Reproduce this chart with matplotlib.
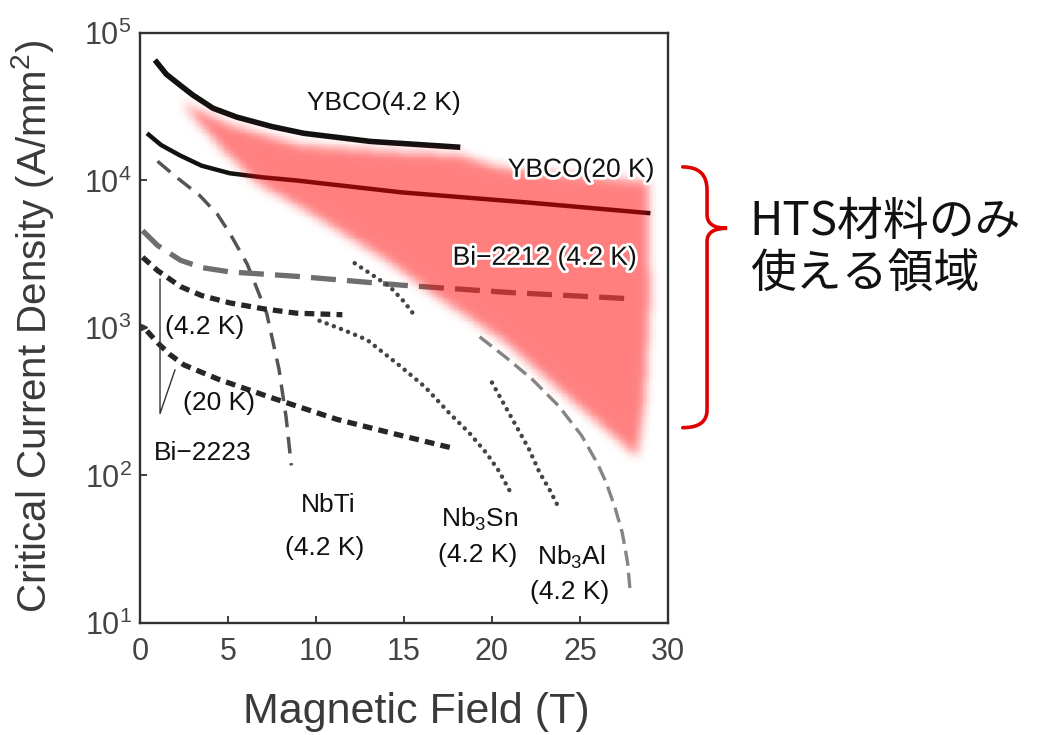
import numpy as np
import matplotlib
matplotlib.use("Agg")
import matplotlib.pyplot as plt
import matplotlib.patheffects as pe
from matplotlib.path import Path
from matplotlib.patches import PathPatch
from matplotlib.ticker import FixedLocator, NullLocator

plt.rcParams['font.family'] = ['Liberation Sans', 'DejaVu Sans']
plt.rcParams['mathtext.fontset'] = 'custom'
plt.rcParams['mathtext.rm'] = 'Liberation Sans'
plt.rcParams['mathtext.it'] = 'Liberation Sans:italic'
plt.rcParams['mathtext.default'] = 'regular'
plt.rcParams['lines.scale_dashes'] = False

# critical current density (A/mm^2) vs magnetic field (T)
ybco42_field = [0.85, 1.5, 2.27, 3.0, 4.15, 5.5, 7.5, 9.3, 13.1, 18.2]
ybco42_jc = [65600, 52500, 44400, 38000, 30900, 26900, 23200, 20900, 18400, 16800]

ybco20_field = [0.4, 1.2, 2.27, 3.5, 5.1, 7.0, 8.9, 14.9, 22.0, 29.0]
ybco20_jc = [20900, 17400, 14800, 12600, 11200, 10500, 10000, 8300, 7100, 6000]

nbti_field = [1.0, 2.0, 3.4, 4.4, 5.1, 6.1, 7.2, 7.9, 8.3, 8.6]
nbti_jc = [13500, 10700, 7900, 5900, 4400, 2700, 1260, 525, 250, 117]

bi2212_field = [0.15, 1.0, 2.3, 3.5, 5.1, 8.9, 14.9, 21.0, 27.8]
bi2212_jc = [4570, 3630, 2880, 2570, 2400, 2240, 1950, 1740, 1580]

bi2223_42_field = [0.15, 1.0, 2.3, 3.5, 5.1, 7.0, 8.9, 11.5]
bi2223_42_jc = [3020, 2450, 1910, 1660, 1480, 1350, 1260, 1230]

bi2223_20_field = [0.4, 1.0, 1.7, 2.5, 4.5, 7.4, 11.2, 14.5, 17.6]
bi2223_20_jc = [955, 794, 661, 562, 447, 339, 240, 191, 155]

nb3sn_field = [10.2, 11.5, 12.9, 14.8, 16.2, 17.6, 18.7, 19.7, 20.4, 21.0]
nb3sn_jc = [1120, 977, 832, 550, 398, 263, 195, 141, 107, 79]

nb3sn_hi_field = [12.2, 13.2, 14.2, 15.0, 15.7]
nb3sn_hi_jc = [2750, 2290, 1905, 1510, 1175]

nb3sn_lo_field = [20.0, 20.7, 21.4, 22.1, 22.7, 23.3, 23.75]
nb3sn_lo_jc = [427, 302, 214, 151, 105, 79, 62]

nb3al_field = [19.3, 20.8, 22.3, 23.8, 25.1, 26.0, 26.5, 27.0, 27.4, 27.7, 27.84]
nb3al_jc = [871, 631, 447, 295, 186, 120, 89, 60, 41, 26, 17]

# region only reachable with HTS materials (outline)
hts_field = [2.44, 5.11, 9.09, 14.77, 18.18, 20.45, 28.86, 28.98, 28.69, 28.24,
             27.67, 25.4, 20.6, 16.9, 14.0, 9.66, 6.42, 4.55, 2.84]
hts_jc = [33500, 23800, 17400, 15600, 14900, 12200, 9800, 1550, 320, 133,
          155, 263, 830, 1620, 2880, 6030, 10000, 17000, 28800]

xticks = [0, 5, 10, 15, 20, 25, 30]
yticks = [1e1, 1e2, 1e3, 1e4, 1e5]

fig = plt.figure(figsize=(10.46, 7.35), dpi=100)
ax = fig.add_axes([0.1338, 0.1524, 0.5048, 0.8027])
ax.set_yscale('log')
ax.set_xlim(0, 30)
ax.set_ylim(1e1, 1e5)

ax.plot(ybco42_field, ybco42_jc, color='#111111', lw=4.0, solid_capstyle='butt',
        solid_joinstyle='round', zorder=2)
ax.plot(ybco20_field, ybco20_jc, color='#111111', lw=3.2, solid_capstyle='butt',
        solid_joinstyle='round', zorder=2)
ax.plot(nbti_field, nbti_jc, color='#555555', lw=2.5, dashes=(12, 7), zorder=2)
ax.plot(bi2212_field, bi2212_jc, color='#6e6e6e', lw=3.8, dashes=(18, 8), zorder=2)
ax.plot(bi2223_42_field, bi2223_42_jc, color='#262626', lw=3.8, dashes=(7, 4.5), zorder=2)
ax.plot(bi2223_20_field, bi2223_20_jc, color='#262626', lw=3.8, dashes=(7, 4.5), zorder=2)
for f, j in [(nb3sn_field, nb3sn_jc), (nb3sn_hi_field, nb3sn_hi_jc), (nb3sn_lo_field, nb3sn_lo_jc)]:
    ax.plot(f, j, color='#444444', lw=3.2, dashes=(0.1, 5.4), dash_capstyle='round', zorder=2)
ax.plot(nb3al_field, nb3al_jc, color='#858585', lw=2.4, dashes=(11, 5), zorder=2)

# leader lines for the Bi-2223 label
ax.plot([1.14, 1.14, 1.99], [2140, 263, 519], color='#333333', lw=1.0, zorder=2)
ax.plot([0.25], [1010], marker='>', ms=5, color='#333333', zorder=2)

# soft-edged translucent red band drawn over the curves
gx = np.arange(0, 30.0001, 0.1)
gly = np.arange(1, 5.0001, 0.0125)
cx = 0.5 * (gx[:-1] + gx[1:])
cly = 0.5 * (gly[:-1] + gly[1:])
XX, YY = np.meshgrid(cx, cly)
outline = Path(np.column_stack([hts_field, np.log10(hts_jc)]))
inside = outline.contains_points(np.column_stack([XX.ravel(), YY.ravel()])).reshape(XX.shape).astype(float)

def blur(a, sigma):
    r = int(3 * sigma)
    k = np.exp(-0.5 * (np.arange(-r, r + 1) / sigma) ** 2)
    k /= k.sum()
    a = np.apply_along_axis(lambda v: np.convolve(v, k, mode='same'), 0, a)
    a = np.apply_along_axis(lambda v: np.convolve(v, k, mode='same'), 1, a)
    return a

soft = blur(inside, 2.8)
rgba = np.zeros(soft.shape + (4,))
rgba[..., 0] = 1.0
rgba[..., 3] = 0.5 * soft
ax.pcolormesh(gx, 10 ** gly, rgba, shading='flat', zorder=3)

halo = [pe.withStroke(linewidth=4, foreground='white')]
lab = dict(fontsize=19, color='#111111', ha='center', va='center', zorder=5)
ax.text(13.86, 33500, 'YBCO(4.2 K)', **lab)
ax.text(25.06, 11800, 'YBCO(20 K)', path_effects=halo, **lab)
ax.text(23.0, 2990, 'Bi\u22122212 (4.2 K)', path_effects=halo, **lab)
ax.text(3.69, 1017, '(4.2 K)', **lab)
ax.text(4.49, 309, '(20 K)', **lab)
ax.text(3.58, 142, 'Bi\u22122223', **lab)
ax.text(10.68, 63, 'NbTi', **lab)
ax.text(10.51, 32, '(4.2 K)', **lab)
ax.text(19.32, 50, 'Nb$_3$Sn', **lab)
ax.text(19.2, 29, '(4.2 K)', **lab)
ax.text(24.49, 28, 'Nb$_3$Al', **lab)
ax.text(24.43, 16.2, '(4.2 K)', **lab)

# axes styling
for s in ax.spines.values():
    s.set_color('#303030')
    s.set_linewidth(1.7)
ax.xaxis.set_major_locator(FixedLocator(xticks))
ax.yaxis.set_major_locator(FixedLocator(yticks))
ax.yaxis.set_minor_locator(NullLocator())
ax.tick_params(direction='in', length=5, width=1.3, color='#303030',
               labelsize=22, labelcolor='#444444')
ax.tick_params(axis='x', pad=10)
ax.tick_params(axis='y', pad=6)
ax.set_xlabel('Magnetic Field (T)', fontsize=31, color='#3a3a3a')
ax.set_ylabel('Critical Current Density (A/mm$^2$)', fontsize=29, color='#3a3a3a')
ax.xaxis.set_label_coords(0.523, -0.151)
ax.xaxis.label.set_va('center')
ax.yaxis.set_label_coords(-0.203, 0.503)
ax.yaxis.label.set_va('center')

# red brace marking the HTS-only region
br = [(1.028, 0.773), (1.074, 0.773), (1.074, 0.734), (1.074, 0.692),
      (1.074, 0.669), (1.112, 0.669), (1.074, 0.669), (1.074, 0.647),
      (1.074, 0.361), (1.074, 0.331), (1.028, 0.331)]
codes = [Path.MOVETO, Path.CURVE3, Path.CURVE3, Path.LINETO,
         Path.CURVE3, Path.CURVE3, Path.CURVE3, Path.CURVE3,
         Path.LINETO, Path.CURVE3, Path.CURVE3]
ax.add_patch(PathPatch(Path(br, codes), transform=ax.transAxes, fill=False,
                       edgecolor='#e00000', lw=2.6, clip_on=False, capstyle='round'))

jp = dict(fontsize=33, color='#111111', ha='left', va='center', transform=ax.transAxes,
          family=['Noto Sans CJK JP', 'DejaVu Sans'])
ax.text(1.155, 0.680, 'HTS材料のみ', **jp)
ax.text(1.155, 0.593, '使える領域', **jp)

fig.savefig('out.png', dpi=100)
